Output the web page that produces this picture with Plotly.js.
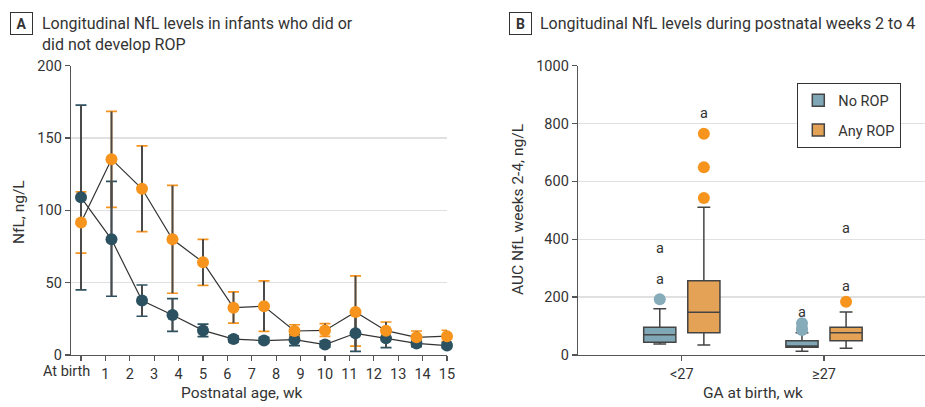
<!DOCTYPE html>
<html><head><meta charset="utf-8">
<script src="https://cdn.plot.ly/plotly-3.0.1.min.js"></script>
<style>html,body{margin:0;padding:0;background:#fff}#chart{width:925px;height:407px}</style>
</head><body><div id="chart"></div><script>
// ---- Panel A data ----
const weeks = [0, 1.25, 2.5, 3.75, 5, 6.25, 7.5, 8.75, 10, 11.25, 12.5, 13.75, 15];
const noRopMean  = [109, 80, 37.6, 27.7, 17, 11, 10, 10.6, 7.2, 15, 11.5, 8, 6.5];
const noRopUpper = [172.8, 120, 48.4, 39, 21.4, 13, 12, 14, 9.5, 28, 17, 10.5, 8.5];
const noRopLower = [45, 40.6, 26.8, 16.4, 12.7, 9, 8.5, 6.5, 5.5, 2.5, 5.1, 5.7, 5];
const anyRopMean  = [91.6, 135.4, 114.9, 80, 64.1, 32.7, 33.7, 16.6, 17, 29.8, 16.8, 12.2, 13];
const anyRopUpper = [112.8, 168.4, 144.6, 117.2, 80, 43.6, 51.2, 20.9, 21.7, 54.7, 22.8, 16.6, 17.1];
const anyRopLower = [70.4, 102, 85.3, 42.7, 48.2, 22.1, 16.4, 13.1, 12.9, 6.2, 12, 9, 9.5];
const weekTickVals = [0,1,2,3,4,5,6,7,8,9,10,11,12,13,14,15];
const weekTickText = ['', '1','2','3','4','5','6','7','8','9','10','11','12','13','14','15'];

// ---- Panel B data ----
const gaGroups = ['<27', '≥27'];
const noQ1 = [44, 26.6], noMed = [70, 31], noQ3 = [96, 49.4], noLo = [38, 12.8], noHi = [160, 77];
const noOutliers = [[192.5], [86, 92, 109.6]];
const anyQ1 = [77, 49.4], anyMed = [147.6, 77], anyQ3 = [257, 95.7], anyLo = [34.6, 23], anyHi = [510.5, 148.6];
const anyOutliers = [[542.7, 648.8, 765], [184]];
const sigNo = [[369, 262], [146]];
const sigAny = [[834], [438, 236]];

const DARK = '#2c5262', ORANGE = '#f7941d';
const FONT = 'Roboto, "Noto Sans", sans-serif';
const TXT = '#333';

function diff(a, b) { return a.map((v, i) => v - b[i]); }

const traces = [];
function errTrace(mean, up, lo, color, width, thick) {
  return { x: weeks, y: mean, type: 'scatter', mode: 'markers', marker: {size: 1, opacity: 0},
    error_y: {type: 'data', symmetric: false, array: diff(up, mean), arrayminus: diff(mean, lo),
      color: color, width: width, thickness: thick},
    showlegend: false, hoverinfo: 'skip', xaxis: 'x', yaxis: 'y', cliponaxis: false };
}
traces.push(errTrace(noRopMean, noRopUpper, noRopLower, DARK, 5.5, 1.7));
traces.push(errTrace(anyRopMean, anyRopUpper, anyRopLower, ORANGE, 5.5, 1.7));
traces.push(errTrace(noRopMean, noRopUpper, noRopLower, '#4a4a4a', 0, 2));
traces.push(errTrace(anyRopMean, anyRopUpper, anyRopLower, '#4a4a4a', 0, 2));
[noRopMean, anyRopMean].forEach(m => traces.push({x: weeks, y: m, type: 'scatter', mode: 'lines',
  line: {color: '#333', width: 1.2}, showlegend: false, xaxis: 'x', yaxis: 'y', cliponaxis: false}));
traces.push({x: weeks, y: noRopMean, type: 'scatter', mode: 'markers', marker: {color: DARK, size: 12},
  showlegend: false, xaxis: 'x', yaxis: 'y', cliponaxis: false});
traces.push({x: weeks, y: anyRopMean, type: 'scatter', mode: 'markers', marker: {color: ORANGE, size: 12},
  showlegend: false, xaxis: 'x', yaxis: 'y', cliponaxis: false});

traces.push({type: 'box', name: 'No ROP', x: gaGroups, q1: noQ1, median: noMed, q3: noQ3,
  lowerfence: noLo, upperfence: noHi, y: noOutliers, boxpoints: 'outliers', pointpos: 0, jitter: 0,
  fillcolor: '#80a7b6', line: {color: '#444', width: 1.5}, whiskerwidth: 0.4,
  marker: {color: '#86abb9', size: 12, line: {width: 0}}, xaxis: 'x2', yaxis: 'y2', legendgroup: 'a'});
traces.push({type: 'box', name: 'Any ROP', x: gaGroups, q1: anyQ1, median: anyMed, q3: anyQ3,
  lowerfence: anyLo, upperfence: anyHi, y: anyOutliers, boxpoints: 'outliers', pointpos: 0, jitter: 0,
  fillcolor: '#e4a256', line: {color: '#444', width: 1.5}, whiskerwidth: 0.4,
  marker: {color: ORANGE, size: 12, line: {width: 0}}, xaxis: 'x2', yaxis: 'y2', legendgroup: 'b'});

const annotations = [];
function panelTitle(letter, xBox, xText, text) {
  annotations.push({xref: 'paper', yref: 'paper', x: xBox, y: 1 - 12/407, xanchor: 'left', yanchor: 'top',
    text: '<b>' + letter + '</b>', showarrow: false, font: {family: FONT, size: 14, color: TXT},
    width: 21, height: 21, bordercolor: '#333', borderwidth: 1, borderpad: 0, align: 'center', valign: 'middle'});
  annotations.push({xref: 'paper', yref: 'paper', x: xText, y: 1 - 12/407, xanchor: 'left', yanchor: 'top',
    text: text, showarrow: false, align: 'left', font: {family: FONT, size: 16, color: TXT}});
}
panelTitle('A', 10/925, 40/925, 'Longitudinal NfL levels in infants who did or<br>did not develop ROP');
panelTitle('B', 509/925, 538/925, 'Longitudinal NfL levels during postnatal weeks 2 to 4');
annotations.push({xref: 'x', yref: 'paper', x: 0, y: 52/407, xanchor: 'right', yanchor: 'top', xshift: 11, yshift: -6,
  text: 'At birth', showarrow: false, font: {family: FONT, size: 14.5, color: TXT}});
const axisTitles = [
  {x: 19/925, y: 1 - 212/407, text: 'NfL, ng/L', angle: -90},
  {x: 242/925, y: 1 - 393/407, text: 'Postnatal age, wk', angle: 0},
  {x: 518/925, y: 1 - 210/407, text: 'AUC NfL weeks 2-4, ng/L', angle: -90},
  {x: 753/925, y: 1 - 393/407, text: 'GA at birth, wk', angle: 0}
];
axisTitles.forEach(t => annotations.push({xref: 'paper', yref: 'paper', x: t.x, y: t.y, xanchor: 'center', yanchor: 'middle',
  text: t.text, textangle: t.angle, showarrow: false, font: {family: FONT, size: 15.5, color: TXT}}));
function sig(list, xshift) {
  list.forEach((ys, gi) => ys.forEach(v => annotations.push({xref: 'x2', yref: 'y2', x: gi, y: v, xshift: xshift,
    text: 'a', showarrow: false, font: {family: FONT, size: 14.5, color: TXT}})));
}
sig(sigNo, -22); sig(sigAny, 22);

const axisCommon = {ticks: 'outside', ticklen: 5, tickwidth: 1.3, tickcolor: '#555', showline: true, linecolor: '#555',
  linewidth: 1.3, zeroline: false, tickfont: {family: FONT, size: 14.5, color: TXT}};
const layout = {
  width: 925, height: 407, margin: {l: 0, r: 0, t: 0, b: 0}, paper_bgcolor: '#fff', plot_bgcolor: '#fff',
  font: {family: FONT, color: TXT},
  xaxis: Object.assign({}, axisCommon, {domain: [71/925, 447/925], range: [-0.41, 15], tickmode: 'array',
    tickvals: weekTickVals, ticktext: weekTickText, showgrid: false, anchor: 'y'}),
  yaxis: Object.assign({}, axisCommon, {domain: [52/407, 341.3/407], range: [0, 200], dtick: 50,
    gridcolor: '#e0e0e0', gridwidth: 1.5, anchor: 'x'}),
  xaxis2: Object.assign({}, axisCommon, {domain: [578/925, 1], type: 'category', range: [-0.73, 1.71],
    showgrid: false, anchor: 'y2'}),
  yaxis2: Object.assign({}, axisCommon, {domain: [52/407, 341.3/407], range: [0, 1000], dtick: 200,
    gridcolor: '#e0e0e0', gridwidth: 1.5, anchor: 'x2'}),
  boxmode: 'group', boxgap: 0.38, boxgroupgap: 0.27,
  showlegend: true,
  legend: {x: 797/925, y: 1 - 83/407, xanchor: 'left', yanchor: 'top', bordercolor: '#333', borderwidth: 1.3,
    bgcolor: '#fff', font: {family: FONT, size: 14.5, color: TXT}, traceorder: 'grouped', tracegroupgap: 8},
  annotations: annotations
};
Plotly.newPlot('chart', traces, layout, {staticPlot: true});
</script></body></html>
